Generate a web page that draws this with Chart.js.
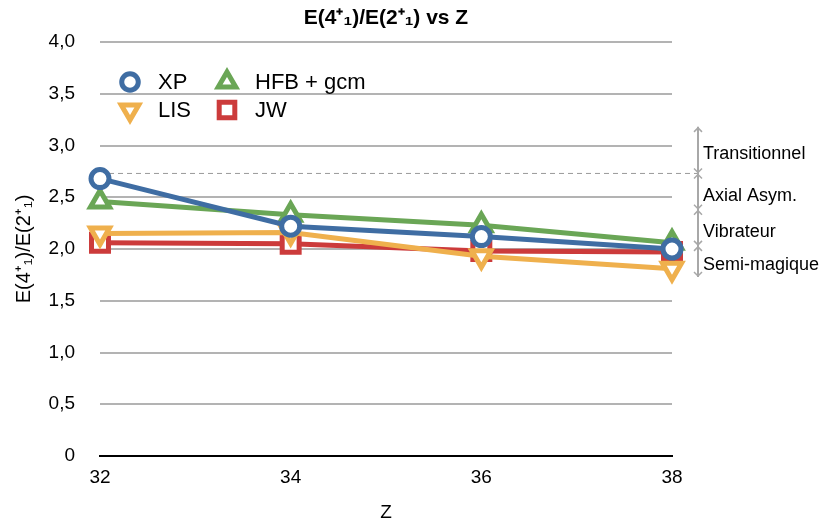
<!DOCTYPE html>
<html>
<head>
<meta charset="utf-8">
<script src="https://cdn.jsdelivr.net/npm/chart.js@4"></script>
<style>
  html, body { margin: 0; padding: 0; background: #fff; }
  #wrap { width: 828px; height: 527px; }
</style>
</head>
<body>
<div id="wrap"><canvas id="ratioChart" width="828" height="527"></canvas></div>
<script>
const zValues = ['32', '34', '36', '38'];
const xpValues = [2.68, 2.22, 2.12, 2.0];
const hfbValues = [2.46, 2.33, 2.23, 2.06];
const lisValues = [2.15, 2.16, 1.93, 1.81];
const jwValues = [2.06, 2.05, 1.98, 1.97];
const yTicks = [0, 0.5, 1, 1.5, 2, 2.5, 3, 3.5, 4];

// regions on the right hand side
const regionBounds = [3.18, 2.73, 2.38, 2.03, 1.73];
const regionNames = ['Transitionnel', 'Axial Asym.', 'Vibrateur', 'Semi-magique'];

const FONT = "'Liberation Sans', Arial, Helvetica, sans-serif";

const colors = {
  xp: '#3f6da3',
  hfb: '#6aa656',
  lis: '#efb04d',
  jw: '#cc3b3b',
};

function series(label, data, color, style, radius, rotation) {
  return {
    label,
    data,
    borderColor: color,
    backgroundColor: '#ffffff',
    borderWidth: 5,
    pointStyle: style,
    pointRadius: radius,
    pointHoverRadius: radius,
    pointRotation: rotation || 0,
    pointBorderWidth: 5,
    pointBackgroundColor: '#ffffff',
    pointBorderColor: color,
    tension: 0,
    clip: false,
  };
}

const datasets = [
  series('XP', xpValues, colors.xp, 'circle', 9),
  series('HFB + gcm', hfbValues, colors.hfb, 'triangle', 11),
  series('LIS', lisValues, colors.lis, 'triangle', 11, 180),
  series('JW', jwValues, colors.jw, 'rect', 12),
];

const decorations = {
  id: 'decorations',
  beforeDatasetsDraw(chart) {
    const { ctx, chartArea, scales } = chart;
    const y = scales.y;
    const xLine = chartArea.right + 26;
    // dashed threshold
    const yd = y.getPixelForValue(regionBounds[1]);
    ctx.save();
    ctx.strokeStyle = '#9a9a9a';
    ctx.lineWidth = 1;
    ctx.setLineDash([5, 4]);
    ctx.beginPath();
    ctx.moveTo(chartArea.left, yd);
    ctx.lineTo(xLine, yd);
    ctx.stroke();
    ctx.restore();
  },
  afterDraw(chart) {
    const { ctx, chartArea, scales } = chart;
    const y = scales.y;
    const xLine = chartArea.right + 26;

    // title
    ctx.save();
    ctx.fillStyle = '#000';
    ctx.font = 'bold 21px ' + FONT;
    ctx.textAlign = 'center';
    ctx.textBaseline = 'middle';
    ctx.fillText('E(4\u207A\u2081)/E(2\u207A\u2081) vs Z', (chartArea.left + chartArea.right) / 2, 18);
    ctx.restore();

    // region arrows
    ctx.save();
    ctx.strokeStyle = '#a8a8a8';
    ctx.lineWidth = 2;
    ctx.beginPath();
    ctx.moveTo(xLine, y.getPixelForValue(regionBounds[0]));
    ctx.lineTo(xLine, y.getPixelForValue(regionBounds[regionBounds.length - 1]));
    ctx.stroke();
    ctx.lineWidth = 1.5;
    for (let i = 0; i < regionNames.length; i++) {
      const top = y.getPixelForValue(regionBounds[i]) + 1;
      const bot = y.getPixelForValue(regionBounds[i + 1]) - 1;
      ctx.beginPath();
      ctx.moveTo(xLine - 4, top + 4); ctx.lineTo(xLine, top); ctx.lineTo(xLine + 4, top + 4);
      ctx.moveTo(xLine - 4, bot - 4); ctx.lineTo(xLine, bot); ctx.lineTo(xLine + 4, bot - 4);
      ctx.stroke();
    }
    ctx.fillStyle = '#000';
    ctx.font = '18px ' + FONT;
    ctx.textAlign = 'left';
    ctx.textBaseline = 'middle';
    for (let i = 0; i < regionNames.length; i++) {
      const mid = (y.getPixelForValue(regionBounds[i]) + y.getPixelForValue(regionBounds[i + 1])) / 2;
      ctx.fillText(regionNames[i], xLine + 5, mid + 4);
    }
    ctx.restore();

    // legend, two columns inside plot area
    ctx.save();
    ctx.font = '22px ' + FONT;
    ctx.textBaseline = 'middle';
    chart.data.datasets.forEach((ds, k) => {
      const col = k % 2;
      const row = Math.floor(k / 2);
      const mx = chartArea.left + 30 + col * 97;
      const my = chartArea.top + 40 + row * 28;
      ctx.strokeStyle = ds.borderColor;
      ctx.fillStyle = '#ffffff';
      ctx.lineWidth = 5;
      Chart.helpers.drawPoint(ctx, {
        pointStyle: ds.pointStyle,
        rotation: ds.pointRotation,
        radius: ds.pointRadius * 0.92,
        borderWidth: 5,
      }, mx, my);
      ctx.fillStyle = '#000';
      ctx.fillText(ds.label, mx + 28, my + 1);
    });
    ctx.restore();
  },
};

new Chart(document.getElementById('ratioChart'), {
  type: 'line',
  data: {
    labels: zValues,
    datasets,
  },
  options: {
    responsive: false,
    animation: false,
    layout: { padding: { top: 42, right: 156, left: 0, bottom: 0 } },
    plugins: {
      legend: { display: false },
      title: { display: false },
      tooltip: { enabled: false },
    },
    scales: {
      x: {
        offset: false,
        grid: { display: false, drawTicks: false },
        border: { display: true, color: '#000', width: 2 },
        ticks: { color: '#000', font: { family: FONT, size: 19 }, padding: 10, maxRotation: 0 },
        title: {
          display: true,
          text: 'Z',
          color: '#000',
          font: { family: FONT, size: 19 },
          padding: { top: 0, bottom: 3 },
        },
        afterFit(scale) { scale.height = 71; },
      },
      y: {
        min: 0,
        max: 4,
        afterBuildTicks(scale) { scale.ticks = yTicks.map(v => ({ value: v })); },
        grid: { color: '#b3b3b3', lineWidth: 2, drawTicks: false },
        border: { display: false },
        ticks: {
          color: '#000',
          font: { family: FONT, size: 19 },
          padding: 25,
          callback: v => (v === 0 ? '0' : v.toFixed(1).replace('.', ',')),
        },
        title: {
          display: true,
          text: 'E(4\u207A\u2081)/E(2\u207A\u2081)',
          color: '#000',
          font: { family: FONT, size: 20 },
          padding: { top: 12, bottom: 0 },
        },
        afterFit(scale) { scale.width = 100; },
      },
    },
  },
  plugins: [decorations],
});
</script>
</body>
</html>
